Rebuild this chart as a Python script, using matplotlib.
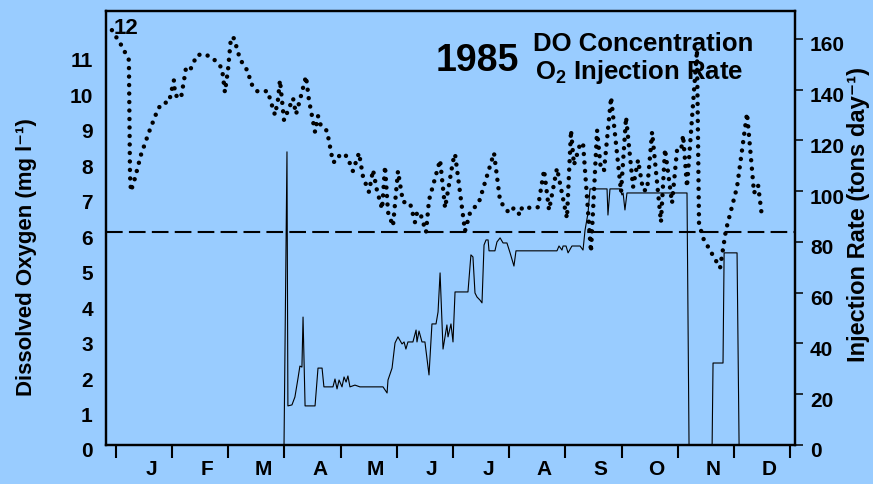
import numpy as np
import matplotlib
matplotlib.use('Agg')
import matplotlib.pyplot as plt
import matplotlib.transforms as mtransforms

# ==========================================
# DATOS (campaña 1985)
# ==========================================

# Concentración de oxígeno disuelto: día del año y mg/l
dias_od = [-2.2, 3.2, 7.0, 7.6, 8.1, 10.3, 13.5, 17.9, 22.7, 24.9,
           28.7, 31.4, 32.0, 35.2, 37.4, 37.9, 40.1, 43.9, 48.2, 52.5,
           57.4, 59.0, 60.7, 62.3, 63.9, 67.2, 72.0, 72.5, 76.4, 82.3,
           83.4, 86.1, 87.7, 88.8, 91.0, 95.9, 97.5, 99.6, 102.9, 104.5,
           107.8, 109.4, 111.0, 114.3, 117.5, 119.7, 121.3, 125.1, 128.3, 131.6,
           133.8, 137.0, 139.2, 141.3, 144.1, 145.7, 147.3, 150.0, 152.7, 155.4,
           159.2, 161.9, 163.0, 164.6, 167.9, 169.5, 175.5, 178.2, 182.5, 183.6,
           189.0, 191.7, 196.6, 204.7, 208.0, 212.8, 215.5, 218.8, 219.9, 225.3,
           228.5, 231.8, 234.5, 238.8, 244.2, 246.4, 248.0, 251.3, 252.9, 257.2,
           260.5, 262.6, 264.3, 268.1, 273.5, 276.2, 280.0, 282.7, 285.4, 287.6,
           290.3, 295.1, 297.3, 301.1, 303.8, 306.0, 307.1, 309.2, 314.6, 315.7,
           317.9, 327.1, 330.3, 336.3, 341.7, 345.5, 347.7, 349.9]
oxigeno_disuelto = [11.69, 11.24, 10.85, 7.61, 7.15, 7.52, 8.17, 8.82, 9.46, 9.63,
                    9.66, 10.28, 9.86, 9.77, 10.45, 10.62, 10.56, 10.99, 11.01, 10.90,
                    10.62, 9.94, 10.59, 11.49, 11.46, 10.87, 10.48, 10.23, 9.97, 9.97,
                    9.75, 9.30, 9.72, 10.28, 9.15, 9.77, 9.32, 9.72, 10.39, 9.72,
                    8.82, 9.27, 8.99, 8.85, 7.97, 8.00, 8.20, 8.14, 7.72, 8.23,
                    7.55, 7.13, 7.75, 7.18, 6.65, 7.86, 6.56, 6.17, 7.72, 6.85,
                    6.82, 6.28, 6.54, 6.56, 6.00, 6.90, 8.03, 6.68, 8.00, 8.20,
                    6.03, 6.54, 6.85, 8.23, 6.87, 6.54, 6.68, 6.48, 6.70, 6.68,
                    6.70, 7.75, 6.62, 7.80, 6.39, 8.87, 7.89, 8.48, 8.51, 5.44,
                    8.87, 7.75, 7.75, 9.80, 7.13, 9.24, 7.27, 8.03, 7.18, 7.18,
                    8.82, 6.28, 8.34, 6.82, 8.31, 8.31, 8.73, 7.27, 11.13, 6.25,
                    5.83, 4.99, 6.06, 7.27, 9.35, 7.10, 7.32, 6.39]

# Tasa de inyección de O2: día del año y toneladas por día
dias_iny = [91.0, 92.6, 93.1, 95.3, 96.9, 98.6, 99.6, 100.7, 101.3, 102.4,
            107.8, 109.4, 111.6, 112.6, 117.5, 118.6, 119.7, 120.8, 122.4, 123.5,
            124.6, 125.6, 126.7, 129.4, 132.1, 144.6, 146.8, 147.3, 149.5, 151.1,
            152.7, 154.9, 156.0, 157.0, 158.1, 160.8, 162.5, 163.0, 164.1, 165.7,
            167.3, 169.5, 171.1, 173.3, 174.4, 175.5, 177.1, 179.2, 179.8, 181.4,
            182.5, 183.6, 190.6, 192.2, 193.3, 194.4, 195.5, 197.1, 198.2, 199.3,
            200.4, 201.5, 202.0, 205.2, 206.3, 208.0, 209.6, 211.7, 213.4, 215.5,
            216.6, 238.8, 239.9, 241.5, 242.1, 243.7, 244.8, 246.9, 251.3, 252.9,
            254.0, 255.6, 256.7, 265.9, 266.4, 267.5, 272.9, 274.0, 274.6, 275.6,
            276.7, 309.2, 310.3, 322.8, 323.3, 328.7, 329.3, 336.3, 337.4]
tasa_inyeccion = [0, 115.5, 15.4, 15.8, 18.9, 26.4, 31.1, 30.7, 50.4, 15.4,
                  15.4, 30.3, 30.3, 22.9, 22.9, 26.0, 22.1, 25.6, 22.9, 26.8,
                  24.8, 27.2, 22.9, 23.6, 22.9, 22.9, 20.5, 25.6, 30.3, 40.2,
                  42.6, 39.8, 40.6, 37.8, 40.6, 40.6, 45.3, 40.6, 44.9, 40.6,
                  40.6, 27.6, 47.7, 47.7, 52.4, 67.8, 37.8, 47.3, 42.6, 47.7,
                  40.6, 60.3, 60.3, 74.9, 74.1, 59.9, 58.3, 57.1, 56.0, 78.8,
                  80.8, 80.8, 76.5, 76.5, 80.0, 81.6, 79.6, 79.6, 75.7, 70.5,
                  76.5, 76.5, 78.4, 76.8, 78.4, 78.4, 75.7, 78.4, 78.4, 76.8,
                  84.7, 91.4, 100.9, 100.9, 90.6, 100.9, 100.9, 98.5, 99.3, 92.6,
                  99.3, 99.3, 0, 0, 32.3, 32.3, 75.7, 75.7, 0]

meses = ['J', 'F', 'M', 'A', 'M', 'J', 'J', 'A', 'S', 'O', 'N', 'D']
ticks_od = list(range(0, 12))
ticks_iny = list(range(0, 161, 20))
umbral_od = 6.0  # mg/l

COLOR_FONDO = '#99ccff'
FUENTE = 'Liberation Sans'

plt.rcParams['font.family'] = [FUENTE, 'DejaVu Sans']
plt.rcParams['font.weight'] = 'bold'
plt.rcParams['mathtext.fontset'] = 'custom'
plt.rcParams['mathtext.rm'] = FUENTE + ':bold'
plt.rcParams['mathtext.it'] = FUENTE + ':bold'
plt.rcParams['mathtext.bf'] = FUENTE + ':bold'
plt.rcParams['mathtext.default'] = 'rm'


def desplazar(etiquetas, fig, dx_px, dy_px):
    """Corre las etiquetas de los ticks unos pixeles."""
    off = mtransforms.ScaledTranslation(dx_px / fig.dpi, dy_px / fig.dpi,
                                        fig.dpi_scale_trans)
    for et in etiquetas:
        et.set_transform(et.get_transform() + off)


def graficar():
    fig = plt.figure(figsize=(8.73, 4.84), dpi=100, facecolor=COLOR_FONDO)
    ax = fig.add_axes([0.1214, 0.0806, 0.7893, 0.8967])
    ax.set_facecolor(COLOR_FONDO)
    ax2 = ax.twinx()

    largo_mes = 365 / 12
    ax.set_xlim(-5.4, 367.7)
    ax.set_ylim(0, 12.23)
    ax2.set_ylim(0, 171.0)

    # Oxígeno disuelto: línea de puntos gruesos
    ax.plot(dias_od, oxigeno_disuelto, color='black', lw=3.2,
            dashes=(0.01, 1.9), dash_capstyle='round', solid_capstyle='round')
    # Nivel de referencia de 6 mg/l
    ax.axhline(umbral_od, color='black', lw=1.5, dashes=(8.0, 3.0))

    # Tasa de inyección en el eje derecho
    ax2.plot(dias_iny, tasa_inyeccion, color='black', lw=0.8)

    # Eje x: meses
    ax.set_xticks(np.arange(13) * largo_mes)
    ax.set_xticklabels([])
    ax.set_xticks((np.arange(12) + 0.5) * largo_mes, minor=True)
    ax.set_xticklabels(meses, minor=True, fontsize=15, fontweight='bold')
    ax.tick_params(axis='x', which='major', direction='out', length=9.5, width=1.5)
    ax.tick_params(axis='x', which='minor', length=0, pad=11)

    # Eje izquierdo sin marcas, sólo números
    ax.set_yticks(ticks_od)
    ax.set_yticklabels([str(v) for v in ticks_od], fontsize=15, fontweight='bold')
    ax.tick_params(axis='y', length=0, pad=9.5)
    ax.annotate('12', xy=(0, 12), xycoords=('axes fraction', 'data'),
                xytext=(5.5, -7), textcoords='offset points',
                ha='left', va='center', fontsize=16, fontweight='bold')

    ax2.set_yticks(ticks_iny)
    ax2.set_yticklabels([str(v) for v in ticks_iny], fontsize=15, fontweight='bold')
    ax2.tick_params(axis='y', direction='out', length=5.8, width=1.1, pad=5)

    desplazar(ax.get_yticklabels(), fig, 0, -5)
    desplazar(ax2.get_yticklabels(), fig, 0, -5)
    desplazar(ax.get_xticklabels(minor=True), fig, 7, 0)

    for a in (ax, ax2):
        for lado in a.spines.values():
            lado.set_linewidth(1.6)

    fig.text(27 / 873, 1 - 257 / 484, 'Dissolved Oxygen (mg l\u207b\u00b9)',
             rotation=90, ha='center', va='center', fontsize=16, fontweight='bold')
    fig.text(858 / 873, 1 - 214 / 484, 'Injection Rate (tons day\u207b\u00b9)',
             rotation=90, ha='center', va='center', fontsize=17, fontweight='bold')

    fig.text(477 / 873, 1 - 61 / 484, '1985', ha='center', va='center',
             fontsize=27, fontweight='bold')
    fig.text(533 / 873, 1 - 44 / 484, 'DO Concentration', ha='left', va='center',
             fontsize=18.5, fontweight='bold')
    fig.text(535 / 873, 1 - 72 / 484, r'O$_2$ Injection Rate', ha='left', va='center',
             fontsize=18.5, fontweight='bold')

    fig.savefig('out.png', dpi=100, facecolor=COLOR_FONDO)


if __name__ == "__main__":
    graficar()
